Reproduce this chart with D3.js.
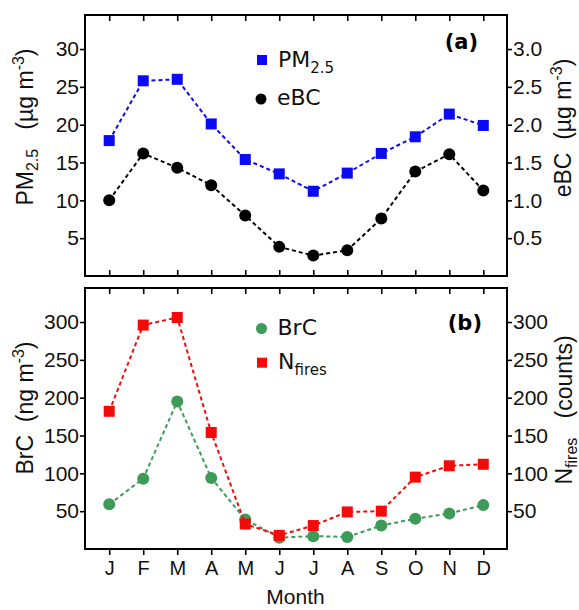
<!DOCTYPE html>
<html>
<head>
<meta charset="utf-8">
<script src="https://cdn.jsdelivr.net/npm/d3@7"></script>
<style>
  body { margin: 0; background: #fff; }
  text { font-family: "Liberation Sans", Arial, sans-serif; }
  .leg { font-family: "DejaVu Sans", Verdana, sans-serif; }
</style>
</head>
<body>
<div id="plot"></div>
<script>
const width = 579;
const height = 610;

const months = ["J", "F", "M", "A", "M", "J", "J", "A", "S", "O", "N", "D"];
const pm25 = [17.9, 25.8, 26.0, 20.1, 15.4, 13.5, 11.2, 13.6, 16.2, 18.4, 21.4, 19.9];
const ebc = [1.00, 1.62, 1.43, 1.20, 0.80, 0.385, 0.27, 0.34, 0.76, 1.38, 1.61, 1.13];
const brc = [59, 93, 195, 94, 39, 15, 17, 16, 31, 40, 47, 58];
const nfires = [182, 296, 306, 154, 33, 18, 31, 49, 50, 95, 110, 112];

const leftTicksA = [5, 10, 15, 20, 25, 30];
const rightTicksA = [0.5, 1.0, 1.5, 2.0, 2.5, 3.0];
const ticksB = [50, 100, 150, 200, 250, 300];

const svg = d3.select("div#plot")
  .append("svg")
  .attr("width", width)
  .attr("height", height);

const x0 = 85, x1 = 507;
const x = d3.scalePoint()
  .domain(d3.range(12))
  .range([109.2, 483.3]);

const yA = d3.scaleLinear().domain([0, 34.5]).range([276, 15]);
const yA2 = d3.scaleLinear().domain([0, 3.45]).range([276, 15]);
const yB = d3.scaleLinear().domain([0, 345]).range([549, 288]);
const yB2 = d3.scaleLinear().domain([0, 345]).range([549, 288]);

function frame(top, bottom, outerBottom) {
  svg.append("rect")
    .attr("x", x0).attr("y", top)
    .attr("width", x1 - x0).attr("height", bottom - top)
    .attr("fill", "none").attr("stroke", "#000").attr("stroke-width", 2);
  // month ticks, inward at top
  svg.append("g")
    .attr("transform", `translate(0,${top})`)
    .call(d3.axisBottom(x).tickSize(6).tickFormat(""))
    .call(g => g.select(".domain").remove());
  // bottom ticks
  svg.append("g")
    .attr("transform", `translate(0,${bottom})`)
    .call((outerBottom ? d3.axisBottom(x) : d3.axisTop(x)).tickSize(6).tickFormat(""))
    .call(g => g.select(".domain").remove());
}

function yAxes(yl, yr, tl, tr, fmtR) {
  svg.append("g")
    .attr("transform", `translate(${x0},0)`)
    .call(d3.axisLeft(yl).tickValues(tl).tickSize(5).tickPadding(1))
    .call(g => g.select(".domain").remove());
  svg.append("g")
    .attr("transform", `translate(${x1},0)`)
    .call(d3.axisRight(yr).tickValues(tr).tickSize(5).tickPadding(1).tickFormat(fmtR))
    .call(g => g.select(".domain").remove());
}

frame(15, 276, false);
frame(288, 549, true);
yAxes(yA, yA2, leftTicksA, rightTicksA, d3.format(".1f"));
yAxes(yB, yB2, ticksB, ticksB, d3.format("d"));

svg.selectAll(".tick line").attr("stroke", "#000").attr("stroke-width", 1.6);
svg.selectAll(".tick text")
  .style("font-family", "'Liberation Sans', Arial, sans-serif")
  .style("font-size", "21px")
  .attr("fill", "#111");

// month labels
svg.append("g")
  .attr("transform", "translate(0,549)")
  .call(d3.axisBottom(x).tickSize(0).tickPadding(12).tickFormat(i => months[i]))
  .call(g => g.select(".domain").remove())
  .selectAll("text")
  .style("font-family", "'Liberation Sans', Arial, sans-serif")
  .style("font-size", "20px")
  .attr("fill", "#111");

svg.append("text")
  .attr("x", 295.5).attr("y", 604)
  .attr("text-anchor", "middle")
  .style("font-size", "21px")
  .attr("fill", "#111")
  .text("Month");

function series(vals, ys, color, shape) {
  const line = d3.line().x((d, i) => x(i)).y(d => ys(d));
  svg.append("path")
    .datum(vals)
    .attr("d", line)
    .attr("fill", "none")
    .attr("stroke", color)
    .attr("stroke-width", 2)
    .attr("stroke-dasharray", "4,3");
  if (shape === "sq") {
    svg.selectAll(null).data(vals).enter().append("rect")
      .attr("x", (d, i) => x(i) - 5.5).attr("y", d => ys(d) - 5.5)
      .attr("width", 11).attr("height", 11)
      .attr("fill", color);
  } else {
    svg.selectAll(null).data(vals).enter().append("circle")
      .attr("cx", (d, i) => x(i)).attr("cy", d => ys(d))
      .attr("r", 6)
      .attr("fill", color);
  }
}

series(pm25, yA, "#0a0af5", "sq");
series(ebc, yA2, "#000", "ci");
series(brc, yB, "#3d9a57", "ci");
series(nfires, yB2, "#f50a0a", "sq");

// legends
function legendItem(px, py, ty, color, shape, main, sub) {
  if (shape === "sq") {
    svg.append("rect").attr("x", px - 5).attr("y", py - 5).attr("width", 10).attr("height", 10).attr("fill", color);
  } else {
    svg.append("circle").attr("cx", px).attr("cy", py).attr("r", 5.5).attr("fill", color);
  }
  const t = svg.append("text")
    .attr("class", "leg")
    .attr("x", px + 16).attr("y", ty)
    .style("font-size", "22px")
    .attr("fill", "#111");
  t.append("tspan").text(main);
  if (sub) t.append("tspan").attr("dy", 6).style("font-size", "15px").text(sub);
}

legendItem(262, 60, 66.5, "#0a0af5", "sq", "PM", "2.5");
legendItem(261, 99, 105, "#000", "ci", "eBC");
legendItem(261.5, 328.5, 335, "#3d9a57", "ci", "BrC");
legendItem(262, 362.7, 368.5, "#f50a0a", "sq", "N", "fires");

svg.append("text").attr("class", "leg")
  .attr("x", 478).attr("y", 49).attr("text-anchor", "end")
  .style("font-size", "21px").style("font-weight", "bold").text("(a)");
svg.append("text").attr("class", "leg")
  .attr("x", 482).attr("y", 330).attr("text-anchor", "end")
  .style("font-size", "21px").style("font-weight", "bold").text("(b)");

// axis titles
function vlabel(cx, cy, rot, parts) {
  const t = svg.append("text")
    .attr("transform", `translate(${cx},${cy}) rotate(${rot})`)
    .attr("text-anchor", "middle")
    .style("font-size", "23px")
    .attr("fill", "#111");
  parts.forEach(p => {
    const s = t.append("tspan").text(p.t);
    if (p.dy) s.attr("dy", p.dy);
    if (p.fs) s.style("font-size", p.fs);
  });
}

vlabel(33, 127, -90, [
  {t: "PM"}, {t: "2.5", dy: 5, fs: "16px"}, {t: "   (\u00b5g m", dy: -5}, {t: "-3", dy: -9, fs: "16px"}, {t: ")", dy: 9}
]);
vlabel(571, 128, -90, [
  {t: "eBC  (\u00b5g m"}, {t: "-3", dy: -9, fs: "16px"}, {t: ")", dy: 9}
]);
vlabel(33, 408, -90, [
  {t: "BrC  (ng m"}, {t: "-3", dy: -9, fs: "16px"}, {t: ")", dy: 9}
]);
vlabel(572, 410, -90, [
  {t: "N"}, {t: "fires", dy: 5, fs: "16px"}, {t: "   (counts)", dy: -5}
]);

svg.selectAll("text").attr("xml:space", "preserve");
</script>
</body>
</html>
